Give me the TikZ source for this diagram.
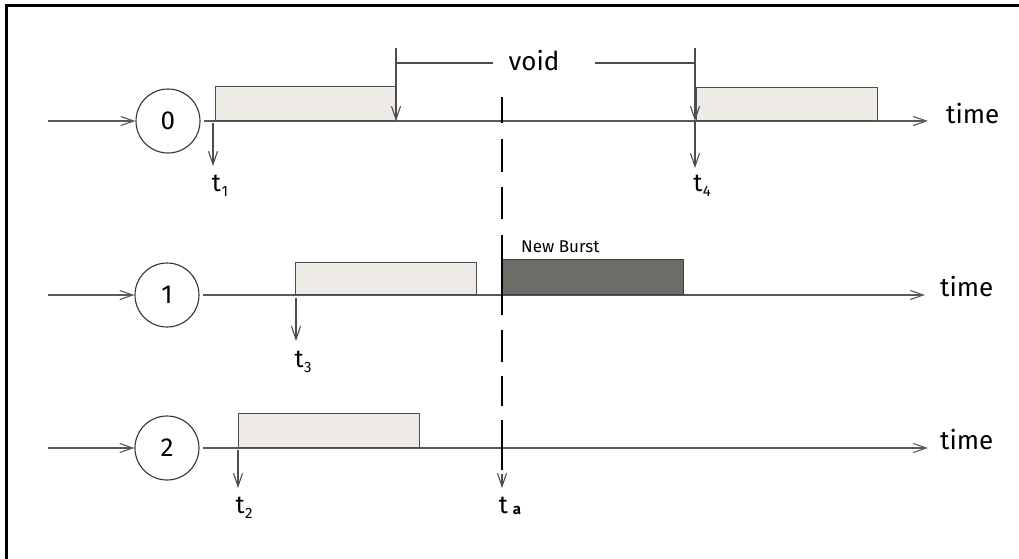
\documentclass[tikz,border=0pt]{standalone}
\usepackage{fontspec}
\setmainfont{Fira Sans}
\usetikzlibrary{arrows.meta}
\definecolor{lightfill}{RGB}{238,235,230}
\definecolor{darkfill}{RGB}{108,109,103}
\newcommand{\tlab}[1]{t\kern0.5pt\raisebox{-5pt}{\fontsize{15}{15}\selectfont #1}}
\begin{document}
\begin{tikzpicture}[x=1pt,y=-1pt,
  axisline/.style={draw=black!65, line width=1.5pt},
  thin/.style={draw=black!70, line width=1.1pt},
  barb/.style={-{Straight Barb[length=13pt,width=9pt,line width=1.1pt]}},
  circ/.style={circle, draw=black!80, line width=1.1pt, minimum size=64pt, inner sep=0pt, font=\fontsize{26}{26}\selectfont},
  lightburst/.style={draw=black!70, line width=1.3pt, fill=lightfill, anchor=south west, inner sep=0pt},
  darkburst/.style={draw=black!75, line width=1.3pt, fill=darkfill, anchor=south west, inner sep=0pt},
  lbl/.style={font=\fontsize{26}{26}\selectfont, inner sep=0pt},
  tl/.style={font=\fontsize{25}{25}\selectfont, inner sep=0pt},
  small/.style={font=\fontsize{17}{17}\selectfont, inner sep=0pt}
]
\useasboundingbox (0,0) rectangle (1019,558);
\fill[white] (0,0) rectangle (1019,558);
% frame
\draw[line width=3pt] (6.5,580) -- (6.5,5) -- (1040,5);

% ---------- row 0 ----------
\coordinate (s0) at (48,121);
\node[circ] (c0) at (168,121) {0};
\coordinate (e0) at (928,121);
\draw[axisline,barb] (s0) -- (c0.west);
\draw[axisline,barb,shorten <=3pt] (c0.east) -- (e0);
\node[lbl,anchor=west] (time0) at (946,114) {time};
\node[lightburst, minimum width=181pt, minimum height=34pt] (b0a) at (215,121) {};
\node[lightburst, minimum width=181pt, minimum height=33pt] (b0b) at (696,121) {};
% t1
\coordinate (t1s) at (213,123);
\coordinate (t1e) at (213,166);
\draw[thin,barb] (t1s) -- (t1e);
\node[tl] (t1) at (220,186) {\tlab{1}};
% void bracket
\coordinate (vl0) at (396,48);
\coordinate (vl1) at (396,121);
\coordinate (vlh) at (396,63);
\coordinate (vr0) at (695,48);
\coordinate (vr1) at (695,121);
\coordinate (vrh) at (695,63);
\coordinate (t4e) at (695,168);
\node[lbl] (void) at (534,61) {void};
\draw[thin,barb] (vl0) -- (vl1);
\draw[thin,barb] (vr0) -- (vr1);
\draw[thin,barb] (vr1) -- (t4e);
\draw[thin] (vlh) -- (493,63);
\draw[thin] (595,63) -- (vrh);
\node[tl] (t4) at (702,186) {\tlab{4}};

% ---------- row 1 ----------
\coordinate (s1) at (48,295);
\node[circ] (c1) at (167,295) {1};
\coordinate (e1) at (925,295);
\draw[axisline,barb] (s1) -- (c1.west);
\draw[axisline,barb,shorten <=3pt] (c1.east) -- (e1);
\node[lbl,anchor=west] (time1) at (940,287) {time};
\node[lightburst, minimum width=181pt, minimum height=32pt] (b1a) at (295,295) {};
\node[darkburst, minimum width=181pt, minimum height=35pt] (b1b) at (502,295) {};
\node[small,anchor=south west] (nb) at (521,253) {New Burst};
\coordinate (t3s) at (296,298);
\coordinate (t3e) at (296,341);
\draw[thin,barb] (t3s) -- (t3e);
\node[tl] (t3) at (303,362) {\tlab{3}};

% ---------- row 2 ----------
\coordinate (s2) at (48,448);
\node[circ] (c2) at (167,448) {2};
\coordinate (e2) at (928,448);
\draw[axisline,barb] (s2) -- (c2.west);
\draw[axisline,barb,shorten <=3pt] (c2.east) -- (e2);
\node[lbl,anchor=west] (time2) at (940,440) {time};
\node[lightburst, minimum width=181pt, minimum height=34pt] (b2a) at (238,448) {};
\coordinate (t2s) at (238,450);
\coordinate (t2e) at (238,488);
\draw[thin,barb] (t2s) -- (t2e);
\node[tl] (t2) at (244,508) {\tlab{2}};

% ---------- t_a dashed ----------
\coordinate (tas) at (502,97);
\coordinate (tam) at (502,470);
\coordinate (tae) at (502,488);
\draw[black, line width=2.4pt, dash pattern=on 26pt off 16pt on 33pt off 15pt on 32pt off 16pt on 80pt off 15pt on 32pt off 14pt on 30pt off 14pt on 200pt] (tas) -- (tam);
\draw[thin,barb] ([yshift=-4pt]tam) -- (tae);
\node[tl] (ta) at (510,506) {t\hspace{5pt}\raisebox{-1pt}{\fontsize{15}{15}\selectfont\bfseries a}};
\end{tikzpicture}
\end{document}
